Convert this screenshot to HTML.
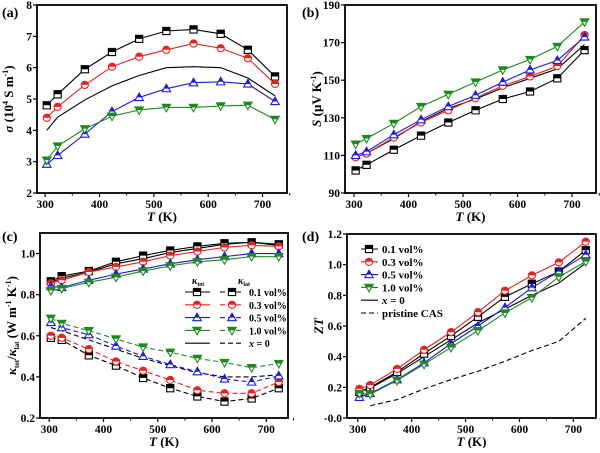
<!DOCTYPE html>
<html><head><meta charset="utf-8"><style>
body{margin:0;background:#fff}
svg text{font-family:"Liberation Serif",serif;font-weight:bold}
</style></head><body>
<svg id="c" width="600" height="448" xmlns="http://www.w3.org/2000/svg"></svg>
<script>
const temps=[303,323,373,423,473,523,573,623,673,723];
const sig01=[4.8,5.15,5.95,6.5,6.92,7.17,7.22,7.08,6.57,5.72];
const sig03=[4.4,4.75,5.45,6.03,6.35,6.57,6.77,6.62,6.3,5.48];
const sig05=[2.92,3.2,3.88,4.6,5.05,5.33,5.52,5.55,5.48,4.92];
const sig10=[3.05,3.5,4.05,4.45,4.65,4.73,4.73,4.78,4.8,4.35];
const sig0=[4.0,4.42,4.97,5.42,5.75,6.0,6.03,6.0,5.67,5.1];
const see01=[102,105,113,120.5,127.5,134,140,144,151,166];
const see03=[109,111,119.5,127.5,134,140.5,147,152,157.5,174];
const see05=[110,112,121,129,136,142,149,155.5,160.5,173];
const see10=[116,119,127,136,142.5,149,155.5,161,168,181];
const see0=[109,111,119,128,135,140,146,151,156,169];
const ktot01=[.865,.89,.915,.96,.99,1.015,1.035,1.05,1.055,1.045];
const ktot03=[.855,.87,.91,.935,.96,.99,1.01,1.03,1.04,1.035];
const ktot05=[.84,.835,.87,.9,.925,.95,.97,.985,1.0,1.0];
const ktot10=[.82,.83,.86,.885,.915,.94,.96,.97,.985,.985];
const ktot0=[.86,.88,.91,.95,.975,1.005,1.025,1.045,1.055,1.04];
const klat01=[.59,.58,.505,.455,.395,.345,.305,.28,.295,.345];
const klat03=[.60,.59,.535,.475,.43,.385,.335,.32,.32,.375];
const klat05=[.665,.64,.605,.55,.50,.46,.425,.39,.375,.405];
const klat10=[.685,.66,.625,.585,.545,.52,.49,.47,.445,.465];
const klat0=[.64,.625,.58,.535,.49,.455,.42,.40,.40,.41];
const zt01=[.17,.2,.3,.42,.535,.66,.79,.875,.955,1.095];
const zt03=[.19,.215,.32,.445,.56,.69,.83,.93,1.015,1.15];
const zt05=[.135,.16,.25,.36,.485,.6,.72,.85,.955,1.065];
const zt10=[.16,.155,.245,.35,.46,.57,.685,.785,.92,1.02];
const zt0=[.17,.195,.29,.40,.51,.62,.71,.80,.88,1.01];
const ztPristineT=[323,373,423,473,523,573,623,673,723];
const ztPristine=[.08,.12,.19,.25,.305,.37,.44,.50,.65];
const xTicks=[300,400,500,600,700];
const ticksA=[2,3,4,5,6,7,8], ticksB=[90,110,130,150,170,190];
const ticksC=[0.2,0.4,0.6,0.8,1.0], ticksD=[0,0.2,0.4,0.6,0.8,1.0,1.2];
const tickLabD=['-0.0','0.2','0.4','0.6','0.8','1.0','1.2'];

const svg=document.getElementById('c');
const NS='http://www.w3.org/2000/svg';
let uid=0;
function el(t,a,p){const e=document.createElementNS(NS,t);for(const k in a)e.setAttribute(k,a[k]);(p||svg).appendChild(e);return e;}
const COL={k:'#000',r:'#e8231f',b:'#1a1ae6',g:'#1e8a1e'};
function marker(g,type,x,y,c){
  const s=3.6;let d;
  if(type==='sq')d=`M${x-s},${y-s}H${x+s}V${y+s}H${x-s}Z`;
  else if(type==='ci')d=`M${x-s},${y}A${s},${s} 0 1,0 ${x+s},${y}A${s},${s} 0 1,0 ${x-s},${y}Z`;
  else if(type==='tu')d=`M${x},${y-s-0.8}L${x+s+0.6},${y+s-0.5}H${x-s-0.6}Z`;
  else d=`M${x},${y+s+0.8}L${x+s+0.6},${y-s+0.5}H${x-s-0.6}Z`;
  const id='cl'+(uid++);
  const cp=el('clipPath',{id},g);el('rect',{x:x-7,y:y-7,width:14,height:7},cp);
  const m=el('path',{d,fill:'#fff',stroke:c,'stroke-width':1.1},g);
  
  
  el('path',{d,fill:c,'clip-path':`url(#${id})`},g);
}
function panel(o){
  const g=el('g',{});
  
  
  const X=v=>o.L+(v-o.x0)/(o.x1-o.x0)*(o.R-o.L);
  const Y=v=>o.B-(v-o.y0)/(o.y1-o.y0)*(o.B-o.T);
  const f=el('rect',{x:o.L,y:o.T,width:o.R-o.L,height:o.B-o.T,fill:'none',stroke:'#000','stroke-width':1.8},g);
  
  xTicks.forEach(v=>{el('line',{x1:X(v),x2:X(v),y1:o.B,y2:o.B+4,stroke:'#000','stroke-width':1.2},g);
    el('line',{x1:X(v+50),x2:X(v+50),y1:o.B,y2:o.B+2.5,stroke:'#000','stroke-width':1},g);
    const t=el('text',{x:X(v),y:o.B+15,'font-size':11.5,'text-anchor':'middle'},g);t.textContent=v;
    });
  o.yt.forEach((v,i)=>{el('line',{x1:o.L-4,x2:o.L,y1:Y(v),y2:Y(v),stroke:'#000','stroke-width':1.2},g);
    const t=el('text',{x:o.L-5,y:Y(v)+4,'font-size':11.5,'text-anchor':'end'},g);t.textContent=o.ytl?o.ytl[i]:(o.dec?v.toFixed(o.dec):v);
    });
  const xt=el('text',{x:(o.L+o.R)/2,y:o.B+28,'font-size':13,'text-anchor':'middle'},g);
  xt.innerHTML='<tspan font-style="italic">T</tspan> (K)';
  
  const yt=el('text',{transform:`translate(${o.L-24},${(o.T+o.B)/2}) rotate(-90)`,'font-size':13,'text-anchor':'middle'},g);
  yt.innerHTML=o.ytitle;
  
  const lb=el('text',{x:o.lx,y:o.ly,'font-size':14},g);lb.textContent=o.label;
  
  o.series.forEach(s=>{
    const xs=s.xs||temps;
    const p=el('polyline',{points:s.v.map((v,i)=>X(xs[i])+','+Y(v)).join(' '),fill:'none',stroke:COL[s.c],'stroke-width':1.1,'stroke-dasharray':s.dash?'5,3':'none'},g);
    
    if(s.m)s.v.forEach((v,i)=>marker(g,s.m,X(xs[i]),Y(v),COL[s.c]));
  });
  return g;
}
panel({name:'panel-a-conductivity',L:37,R:287,T:5,B:193,x0:285,x1:745,y0:2,y1:8,yt:ticksA,label:'(a)',lx:2,ly:17,
 ytitle:'<tspan font-style="italic">σ</tspan> (10<tspan font-size="8" dy="-5">4</tspan><tspan dy="5"> S m</tspan><tspan font-size="8" dy="-5">-1</tspan><tspan dy="5">)</tspan>',
 series:[{v:sig0,c:'k'},{v:sig01,c:'k',m:'sq'},{v:sig03,c:'r',m:'ci'},{v:sig05,c:'b',m:'tu'},{v:sig10,c:'g',m:'td'}]});
panel({name:'panel-b-seebeck',L:345,R:596,T:5,B:193,x0:283.5,x1:744,y0:90,y1:190,yt:ticksB,label:'(b)',lx:302,ly:17,
 ytitle:'<tspan font-style="italic">S</tspan> (μV K<tspan font-size="8" dy="-5">-1</tspan><tspan dy="5">)</tspan>',
 series:[{v:see0,c:'k'},{v:see01,c:'k',m:'sq'},{v:see03,c:'r',m:'ci'},{v:see05,c:'b',m:'tu'},{v:see10,c:'g',m:'td'}]});
const gc=panel({name:'panel-c-thermal-conductivity',L:40,R:288,T:233,B:418,x0:283,x1:740,y0:0.2,y1:1.1,yt:ticksC,dec:1,label:'(c)',lx:2,ly:241,
 ytitle:'<tspan font-style="italic">κ</tspan><tspan font-size="7" dy="3">tot</tspan><tspan dy="-3">/</tspan><tspan font-style="italic">κ</tspan><tspan font-size="7" dy="3">lat</tspan><tspan dy="-3"> (W m</tspan><tspan font-size="8" dy="-5">-1</tspan><tspan dy="5"> K</tspan><tspan font-size="8" dy="-5">-1</tspan><tspan dy="5">)</tspan>',
 series:[{v:ktot0,c:'k'},{v:klat0,c:'k',dash:1},
  {v:ktot01,c:'k',m:'sq'},{v:ktot03,c:'r',m:'ci'},{v:ktot05,c:'b',m:'tu'},{v:ktot10,c:'g',m:'td'},
  {v:klat01,c:'k',m:'sq',dash:1},{v:klat03,c:'r',m:'ci',dash:1},{v:klat05,c:'b',m:'tu',dash:1},{v:klat10,c:'g',m:'td',dash:1}]});
const gd=panel({name:'panel-d-zt',L:347,R:596,T:234,B:418,x0:280,x1:742,y0:0,y1:1.2,yt:ticksD,ytl:tickLabD,label:'(d)',lx:302,ly:241,
 ytitle:'<tspan font-style="italic">ZT</tspan>',
 series:[{v:zt0,c:'k'},{v:ztPristine,xs:ztPristineT,c:'k',dash:1},{v:zt01,c:'k',m:'sq'},{v:zt03,c:'r',m:'ci'},{v:zt05,c:'b',m:'tu'},{v:zt10,c:'g',m:'td'}]});
const legItems=[['sq','k','0.1 vol%'],['ci','r','0.3 vol%'],['tu','b','0.5 vol%'],['td','g','1.0 vol%'],[null,'k','x = 0']];
const lc=el('g',{},gc);

let h=el('text',{x:192,y:284,'font-size':10},lc);h.innerHTML='<tspan font-style="italic">κ</tspan><tspan font-size="6" dy="2">tot</tspan>';
h=el('text',{x:238,y:284,'font-size':10},lc);h.innerHTML='<tspan font-style="italic">κ</tspan><tspan font-size="6" dy="2">lat</tspan>';
legItems.forEach((it,i)=>{const y=292+i*12.8;
  el('line',{x1:185,x2:210,y1:y,y2:y,stroke:COL[it[1]],'stroke-width':1.1},lc);
  el('line',{x1:220,x2:244,y1:y,y2:y,stroke:COL[it[1]],'stroke-width':1.1,'stroke-dasharray':'5,3'},lc);
  if(it[0]){marker(lc,it[0],197,y,COL[it[1]]);marker(lc,it[0],232,y,COL[it[1]]);}
  const t=el('text',{x:249,y:y+4,'font-size':10},lc);
  
  t.innerHTML=it[0]?it[2]:'<tspan font-style="italic">x</tspan> = 0';});
const ld=el('g',{},gd);

legItems.concat([[null,'k','pristine CAS',1]]).forEach((it,i)=>{const y=249+i*12.8;
  el('line',{x1:361,x2:378,y1:y,y2:y,stroke:COL[it[1]],'stroke-width':1.1,'stroke-dasharray':it[3]?'5,3':'none'},ld);
  if(it[0])marker(ld,it[0],369,y,COL[it[1]]);
  const t=el('text',{x:382,y:y+4,'font-size':11},ld);
  
  t.innerHTML=it[2]==='x = 0'?'<tspan font-style="italic">x</tspan> = 0':it[2];});
</script>
</body></html>
